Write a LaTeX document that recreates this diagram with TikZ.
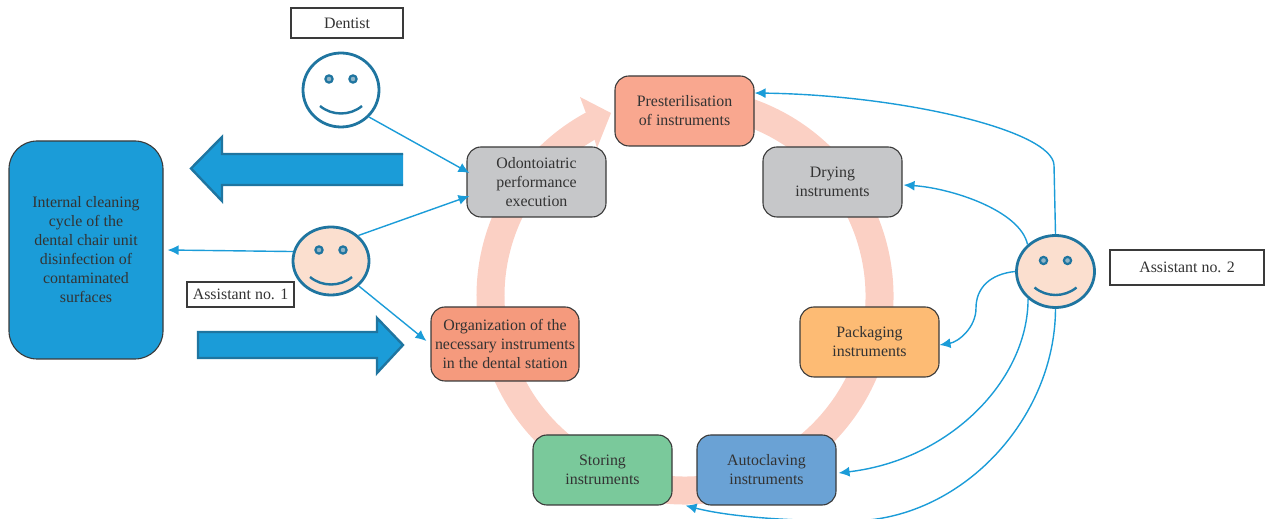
\documentclass[tikz,border=0pt]{standalone}
\usepackage{fontspec}
\setmainfont{Liberation Serif}
\usetikzlibrary{arrows.meta,shapes.geometric}
\definecolor{cyanblue}{HTML}{1B9CD8}
\definecolor{deepblue}{HTML}{1F75A0}
\definecolor{ringpink}{HTML}{FBD0C4}
\definecolor{skinpink}{HTML}{FBDFCF}
\definecolor{boxedge}{HTML}{3A3A3A}
\definecolor{boxtext}{HTML}{333333}
\definecolor{stepgray}{HTML}{C6C7C9}
\definecolor{stagesalmon}{HTML}{F9A78F}
\definecolor{orgsalmon}{HTML}{F59A7D}
\definecolor{packorange}{HTML}{FDBB74}
\definecolor{storegreen}{HTML}{7AC99B}
\definecolor{autoblue}{HTML}{6AA2D5}
\definecolor{eyegray}{HTML}{8FB4C6}
\tikzset{
	stagebox/.style={draw=boxedge,line width=1.1,rounded corners=14,minimum width=139,minimum height=70,inner sep=0,align=center,text=boxtext,font=\fontsize{15.9}{19}\selectfont},
	rolebox/.style={draw=boxedge,line width=1.1,fill=white,inner sep=0,text=boxtext,font=\fontsize{15.9}{19}\selectfont},
	face/.style={draw=deepblue,line width=2.8,ellipse,inner sep=0},
	link/.style={cyanblue,line width=1.4,-{Latex[length=11,width=10]}},
	bigarrow/.style={fill=cyanblue,draw=deepblue,line width=2.4,line join=miter}
}
\newcommand{\facemarks}[1]{
	\filldraw[draw=deepblue,fill=eyegray,line width=2.2] (#1.center) ++(-12,11) circle (3.6);
	\filldraw[draw=deepblue,fill=eyegray,line width=2.2] (#1.center) ++(12,11) circle (3.6);
	\draw[deepblue,line width=2.4] (#1.center) ++(-21,-16) .. controls +(12,-10) and +(-12,-10) .. +(42,0);
}
\begin{document}
\begin{tikzpicture}[x=1pt,y=1pt]
	\useasboundingbox (0,0) rectangle (1266,519);
	
	% ring
	\draw[ringpink,line width=28] (685,223) ++(100:194.5) arc (100:-242:194.5);
	\fill[ringpink] (580,422) -- (611,406) -- (597,371) -- (590,395) -- cycle;
	
	% stages
	\node[stagebox,fill=stagesalmon] (prest) at (684.5,408) {Presterilisation\\of instruments};
	\node[stagebox,fill=stepgray] (odonto) at (536.5,337) {Odontoiatric\\performance\\execution};
	\node[stagebox,fill=stepgray] (drying) at (832.5,337) {Drying\\instruments};
	\node[stagebox,fill=packorange] (packaging) at (869.5,177) {Packaging\\instruments};
	\node[stagebox,fill=orgsalmon,minimum width=148,minimum height=74] (organization) at (505,175) {Organization of the\\necessary instruments\\in the dental station};
	\node[stagebox,fill=storegreen] (storing) at (602.5,49) {Storing\\instruments};
	\node[stagebox,fill=autoblue] (autoclaving) at (766.5,49) {Autoclaving\\instruments};
	\node[stagebox,fill=cyanblue,rounded corners=28,minimum width=154,minimum height=218] (internal) at (86,269) {Internal cleaning\\cycle of the\\dental chair unit\\disinfection of\\contaminated\\surfaces};
	
	% roles
	\node[rolebox,minimum width=112,minimum height=30] (dentistlabel) at (347,496) {Dentist};
	\node[rolebox,minimum width=107,minimum height=25] (firstlabel) at (240.5,224.5) {Assistant no. 1};
	\node[rolebox,minimum width=154,minimum height=35] (secondlabel) at (1187,251.5) {Assistant no. 2};
	
	% faces
	\node[face,fill=white,minimum width=76,minimum height=74] (dentist) at (341,429) {};
	\node[face,fill=skinpink,minimum width=76,minimum height=68] (first) at (331,258) {};
	\node[face,fill=skinpink,minimum width=78,minimum height=72] (second) at (1055.5,247.5) {};
	\facemarks{dentist}
	\facemarks{first}
	\facemarks{second}
	
	% big arrows
	\draw[bigarrow] (403,365) -- (222,365) -- (222,382) -- (191,350.5) -- (222,318) -- (222,334) -- (403,334);
	\draw[bigarrow] (198,187) -- (377,187) -- (377,201) -- (403,174) -- (377,146) -- (377,161) -- (198,161) -- cycle;
	
	% links
	\draw[link] (dentist.-44) -- ([xshift=3,yshift=9]odonto.west);
	\draw[link] (first.43) -- ([xshift=3,yshift=-14]odonto.west);
	\draw[link] (first.-42) -- ([xshift=-4,yshift=3]organization.west);
	\draw[link] (first.166) -- ([xshift=4]internal.east);
	\draw[link] (second.90) -- (1054,354) .. controls (1052,389) and (900,424) .. ([yshift=18]prest.east);
	\draw[link] (second.136) .. controls (1020,309) and (950,331) .. ([xshift=1,yshift=-3]drying.east);
	\draw[link] (second.180) .. controls (990,245) and (976,231) .. (976,211) .. controls (976,191) and (958,177) .. ([yshift=-3]packaging.east);
	\draw[link] (second.225) .. controls (1028,139) and (950,59) .. ([xshift=2,yshift=-3]autoclaving.east);
	\draw[link] (second.270) .. controls (1055,99) and (960,-2) .. (850,-2) .. controls (790,-2) and (730,2) .. ([xshift=13]storing.south east);
\end{tikzpicture}
\end{document}
